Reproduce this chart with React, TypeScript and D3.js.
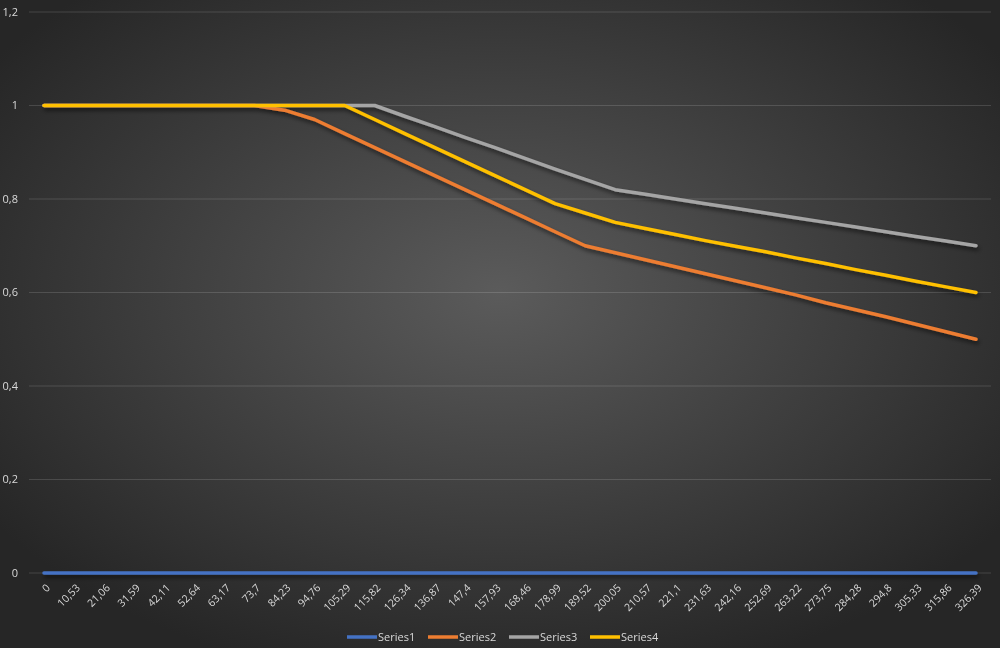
import React from 'react';
import * as d3 from 'd3';

const categories = [
  '0', '10,53', '21,06', '31,59', '42,11', '52,64', '63,17', '73,7', '84,23', '94,76',
  '105,29', '115,82', '126,34', '136,87', '147,4', '157,93', '168,46', '178,99', '189,52', '200,05',
  '210,57', '221,1', '231,63', '242,16', '252,69', '263,22', '273,75', '284,28', '294,8', '305,33',
  '315,86', '326,39',
];

const series1 = categories.map(() => 0);
const series2 = [
  1, 1, 1, 1, 1, 1, 1, 1, 0.99, 0.97,
  0.94, 0.91, 0.88, 0.85, 0.82, 0.79, 0.76, 0.73, 0.7, 0.685,
  0.67, 0.655, 0.64, 0.625, 0.61, 0.595, 0.578, 0.563, 0.548, 0.532,
  0.516, 0.5,
];
const series3 = [
  1, 1, 1, 1, 1, 1, 1, 1, 1, 1,
  1, 1, 0.977, 0.955, 0.932, 0.91, 0.887, 0.864, 0.842, 0.82,
  0.81, 0.8, 0.79, 0.78, 0.77, 0.76, 0.75, 0.74, 0.73, 0.72,
  0.71, 0.7,
];
const series4 = [
  1, 1, 1, 1, 1, 1, 1, 1, 1, 1,
  1, 0.97, 0.94, 0.91, 0.88, 0.85, 0.82, 0.79, 0.77, 0.75,
  0.737, 0.724, 0.711, 0.699, 0.687, 0.674, 0.662, 0.649, 0.637, 0.624,
  0.612, 0.6,
];

const seriesNames = ['Series1', 'Series2', 'Series3', 'Series4'];
const seriesValues = [series1, series2, series3, series4];
const colors = ['#4472c4', '#ed7d31', '#a5a5a5', '#ffc000'];
const yTicks = [0, 0.2, 0.4, 0.6, 0.8, 1, 1.2];

const W = 1000;
const H = 648;
const FONT = '"Open Sans", "Liberation Sans", sans-serif';

const App: React.FC = () => {
  const x = d3.scaleBand<string>().domain(categories).range([29, 991]).padding(0);
  const y = d3.scaleLinear().domain([0, 1.2]).range([573, 12]);
  const cx = (c: string) => (x(c) ?? 0) + x.bandwidth() / 2;
  const fmt = (v: number) => String(+v.toFixed(1)).replace('.', ',');

  const line = d3
    .line<number>()
    .x((_, i) => cx(categories[i]))
    .y((d) => y(d));

  // legend layout
  const legendItem = 81;
  const legendStart = 347;

  return (
    <svg
      width={W}
      height={H}
      style={{ position: 'fixed', left: 0, top: 0, display: 'block' }}
      fontFamily={FONT}
    >
      <defs>
        <radialGradient id="bg" cx="50%" cy="45%" r="62%">
          <stop offset="0%" stopColor="#5b5b5b" />
          <stop offset="100%" stopColor="#262626" />
        </radialGradient>
        <filter id="shadow" x="-5%" y="-20%" width="110%" height="140%">
          <feDropShadow dx="1.5" dy="3" stdDeviation="2" floodColor="#000" floodOpacity="0.55" />
        </filter>
      </defs>
      <rect width={W} height={H} fill="url(#bg)" />

      {yTicks.map((t) => (
        <g key={t}>
          <line x1={29} x2={991} y1={y(t)} y2={y(t)} stroke="#ffffff" strokeOpacity={0.14} strokeWidth={1} />
          <text x={18} y={y(t)} dy="0.35em" textAnchor="end" fontSize={11} fill="#d9d9d9">
            {fmt(t)}
          </text>
        </g>
      ))}

      {categories.map((c) => (
        <text
          key={c}
          transform={`translate(${cx(c) + 4},${586}) rotate(-45)`}
          textAnchor="end"
          fontSize={10.5}
          fill="#d9d9d9"
          dy="0.35em"
        >
          {c}
        </text>
      ))}

      <g filter="url(#shadow)">
        {seriesValues.map((vals, i) => (
          <path
            key={seriesNames[i]}
            d={line(vals) ?? ''}
            fill="none"
            stroke={colors[i]}
            strokeWidth={3.5}
            strokeLinejoin="round"
            strokeLinecap="round"
          />
        ))}
      </g>

      {seriesNames.map((n, i) => {
        const lx = legendStart + i * legendItem;
        return (
          <g key={n}>
            <line x1={lx} x2={lx + 30} y1={637} y2={637} stroke={colors[i]} strokeWidth={3.5} />
            <text x={lx + 31} y={637} dy="0.35em" fontSize={11} fill="#d9d9d9">
              {n}
            </text>
          </g>
        );
      })}
    </svg>
  );
};

export default App;
